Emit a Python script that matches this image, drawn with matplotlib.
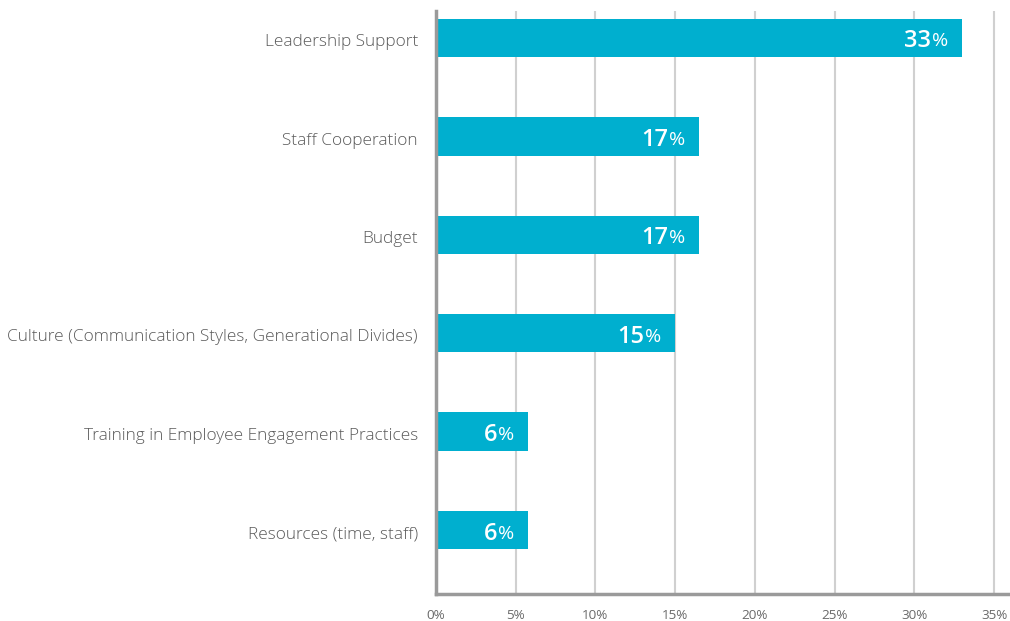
import matplotlib
matplotlib.use("Agg")
import matplotlib.pyplot as plt
from matplotlib.ticker import FuncFormatter

categories = ["Leadership Support", "Staff Cooperation", "Budget",
              "Culture (Communication Styles, Generational Divides)",
              "Training in Employee Engagement Practices", "Resources (time, staff)"]
values = [33.0, 16.5, 16.5, 15.0, 5.8, 5.8]
labels = ["33", "17", "17", "15", "6", "6"]
xticks = [0, 5, 10, 15, 20, 25, 30, 35]

plt.rcParams['font.family'] = ['Open Sans', 'DejaVu Sans']

fig = plt.figure(figsize=(10.10, 6.21), dpi=100)
ax = fig.add_axes([436/1010, 27/621, 1 - 436/1010, 583/621])

bar_color = "#00AFCF"
y = list(range(len(categories)))
ax.barh(y, values, height=0.39, color=bar_color, zorder=3)

ax.set_xlim(0, 36)
ax.set_ylim(5.65, -0.274)
ax.set_yticks(y)
ax.set_yticklabels([])
ax.set_xticks(xticks)
ax.xaxis.set_major_formatter(FuncFormatter(lambda v, p: f"{int(v)}%"))
ax.tick_params(axis='x', labelsize=9.7, colors="#6a6a6a", length=0, pad=10.5)
ax.tick_params(axis='y', length=0)
ax.grid(axis='x', color="#d0d0d0", linewidth=1.5, zorder=0)

for yi, cat in zip(y, categories):
    ax.annotate(cat, xy=(0, yi), xycoords=("axes fraction", "data"),
                xytext=(-13, -3), textcoords="offset points",
                ha="right", va="center", fontsize=12.4, color="#5a5a5a",
                fontweight="light")

for s in ["top", "right"]:
    ax.spines[s].set_visible(False)
for s in ["left", "bottom"]:
    ax.spines[s].set_color("#9a9a9a")
    ax.spines[s].set_linewidth(2.5)
    ax.spines[s].set_zorder(4)

fig.canvas.draw()
renderer = fig.canvas.get_renderer()
for yi, v, lab in zip(y, values, labels):
    pct = ax.annotate("%", xy=(v, yi), xytext=(-10, -2.5), textcoords="offset points",
                      ha="right", va="center", color="white", fontsize=14, zorder=5)
    w = pct.get_window_extent(renderer).width * 72 / fig.dpi
    ax.annotate(lab, xy=(v, yi), xytext=(-10 - w - 0.5, -2.5), textcoords="offset points",
                ha="right", va="center", color="white", fontsize=17,
                fontweight="semibold", zorder=5)

fig.savefig("out.png", dpi=100)
